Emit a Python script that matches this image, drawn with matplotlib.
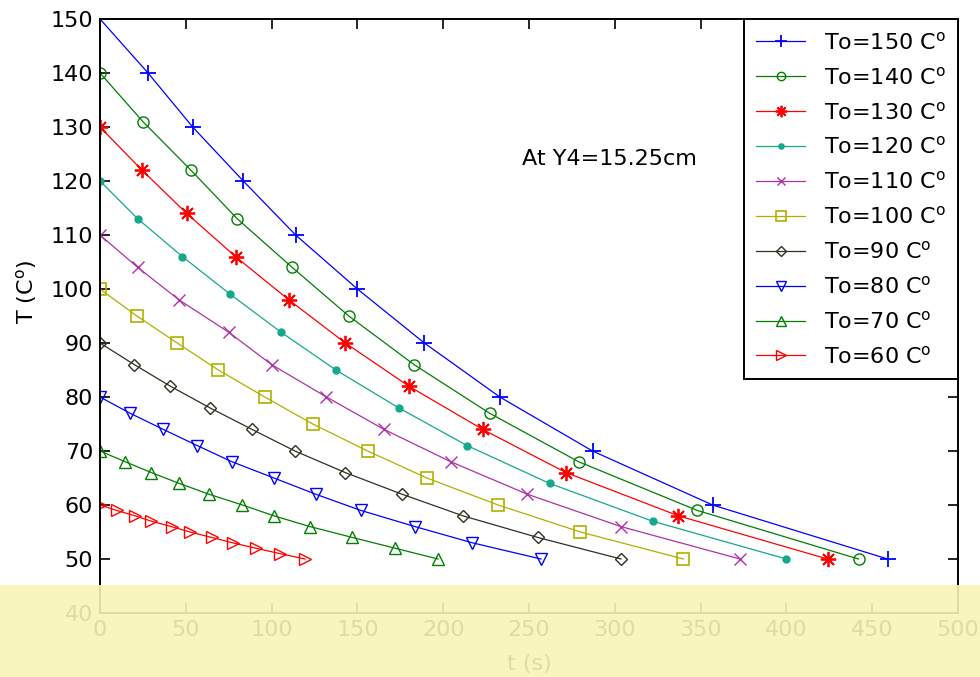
import numpy as np
import matplotlib.pyplot as plt
from matplotlib.patches import Rectangle

plt.rcParams["font.family"] = ["DejaVu Sans"]
plt.rcParams["mathtext.default"] = "regular"

# initial temperatures and the cooling curves (time in s, temperature in C)
T0 = [150, 140, 130, 120, 110, 100, 90, 80, 70, 60]

t_150 = [0, 28, 54, 83.5, 114, 150, 189, 233, 287, 357, 459]
t_140 = [0, 25, 53, 80, 112, 145, 183, 227, 279, 348, 442]
t_130 = [0, 24.5, 50.5, 79, 110, 143, 180, 223, 271.6, 337, 424]
t_120 = [0, 22, 48, 76, 105.5, 137.5, 174, 214, 262, 322, 400]
t_110 = [0, 22, 46, 75, 100, 132, 165.5, 204.5, 249, 303.6, 373]
t_100 = [0, 21.5, 45, 69, 96, 124, 156, 190.5, 232, 280, 340]
t_90 = [0, 20, 41, 64, 88.6, 113.6, 143, 176, 211.5, 255, 303.6]
t_80 = [0, 17.5, 36.9, 56.7, 77, 101.4, 125.7, 152, 183.6, 217, 257]
t_70 = [0, 14.8, 30, 46.2, 63.5, 83, 101.4, 122.4, 147, 172, 197]
t_60 = [0, 9.7, 20.4, 30, 41.7, 52.4, 65, 77.3, 90.8, 104.9, 119.5]

T_150 = [150, 140, 130, 120, 110, 100, 90, 80, 70, 60, 50]
T_140 = [140, 131, 122, 113, 104, 95, 86, 77, 68, 59, 50]
T_130 = [130, 122, 114, 106, 98, 90, 82, 74, 66, 58, 50]
T_120 = [120, 113, 106, 99, 92, 85, 78, 71, 64, 57, 50]
T_110 = [110, 104, 98, 92, 86, 80, 74, 68, 62, 56, 50]
T_100 = [100, 95, 90, 85, 80, 75, 70, 65, 60, 55, 50]
T_90 = [90, 86, 82, 78, 74, 70, 66, 62, 58, 54, 50]
T_80 = [80, 77, 74, 71, 68, 65, 62, 59, 56, 53, 50]
T_70 = [70, 68, 66, 64, 62, 60, 58, 56, 54, 52, 50]
T_60 = [60, 59, 58, 57, 56, 55, 54, 53, 52, 51, 50]

times = [t_150, t_140, t_130, t_120, t_110, t_100, t_90, t_80, t_70, t_60]
temps = [T_150, T_140, T_130, T_120, T_110, T_100, T_90, T_80, T_70, T_60]

styles = [
    dict(color="#0000ff", marker="+", ms=12, mew=1.3, mfc="none"),
    dict(color="#007f00", marker="o", ms=8, mew=1.0, mfc="none"),
    dict(color="#ff0000", marker=(8, 2, 0), ms=11, mew=1.3),
    dict(color="#14a98b", marker="o", ms=5, mew=1.0),
    dict(color="#b030a8", marker="x", ms=8, mew=1.0),
    dict(color="#b0b000", marker="s", ms=9, mew=1.2, mfc="none"),
    dict(color="#303020", marker="D", ms=6.5, mew=1.0, mfc="none"),
    dict(color="#0000ff", marker="v", ms=9, mew=1.0, mfc="none"),
    dict(color="#007f00", marker="^", ms=9, mew=1.0, mfc="none"),
    dict(color="#ff0000", marker=">", ms=9, mew=1.0, mfc="none"),
]

fig = plt.figure(figsize=(9.8, 6.77), dpi=100)
ax = fig.add_axes([0.102, 0.0945, 0.8756, 0.8775])

for t, T, T_start, st in zip(times, temps, T0, styles):
    ax.plot(t, T, lw=0.9, label="To=%d C$^{o}$" % T_start, **st)

ax.set_xlim(0, 500)
ax.set_ylim(40, 150)
ax.set_xticks(range(0, 501, 50))
ax.set_yticks(range(40, 151, 10))
ax.tick_params(direction="in", length=7, top=True, right=True, labelsize=16,
               width=1.2, pad=5)
for sp in ax.spines.values():
    sp.set_linewidth(1.4)

ax.set_xlabel("t (s)", fontsize=16, labelpad=10)
ax.set_ylabel("T (C$^{o}$)", fontsize=16)
ax.yaxis.set_label_coords(-0.071, 0.54)

ax.text(246, 124, "At Y4=15.25cm", fontsize=16, va="center")

leg = ax.legend(loc="upper right", borderaxespad=0, fontsize=16, fancybox=False,
                framealpha=1, edgecolor="black", handlelength=2.2,
                labelspacing=0.58, borderpad=0.55, handletextpad=0.85,
                markerscale=0.75)
leg.get_frame().set_linewidth(1.4)

# pale band across the bottom of the figure
fig.patches.append(Rectangle((0, 0), 1, 92 / 677, transform=fig.transFigure,
                             facecolor="#f8f4b8", alpha=0.9, edgecolor="none",
                             zorder=10))

fig.savefig("out.png", dpi=100)
